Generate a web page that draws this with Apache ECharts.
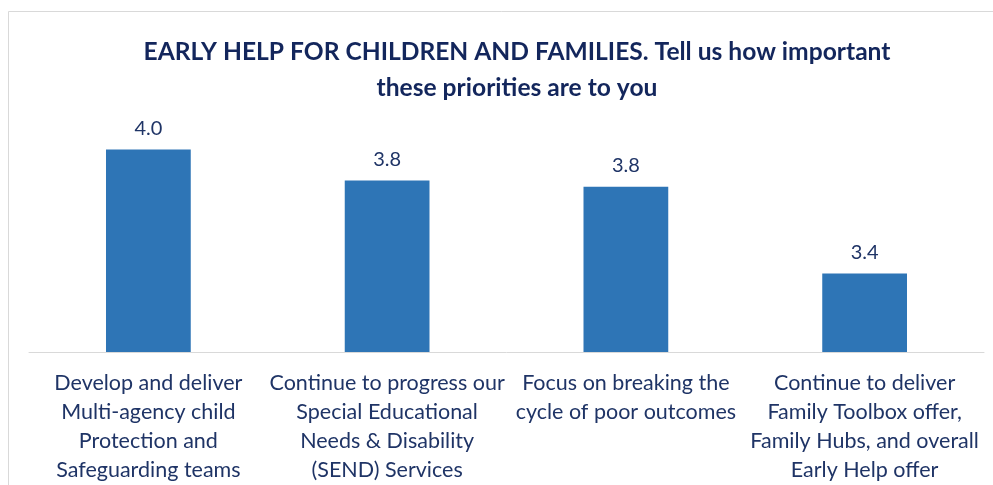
<!DOCTYPE html>
<html>
<head>
<meta charset="utf-8">
<script src="https://cdn.jsdelivr.net/npm/echarts@6/dist/echarts.min.js"></script>
<style>
html,body{margin:0;padding:0;background:#fff;}
#chart{width:993px;height:485px;}
</style>
</head>
<body>
<div id="chart"></div>
<script>
const titleLines = ["EARLY HELP FOR CHILDREN AND FAMILIES. Tell us how important", "these priorities are to you"];
const categories = [
  "Develop and deliver\nMulti-agency child\nProtection and\nSafeguarding teams",
  "Continue to progress our\nSpecial Educational\nNeeds & Disability\n(SEND) Services",
  "Focus on breaking the\ncycle of poor outcomes",
  "Continue to deliver\nFamily Toolbox offer,\nFamily Hubs, and overall\nEarly Help offer"
];
const values = [3.98, 3.83, 3.80, 3.38];

const chart = echarts.init(document.getElementById('chart'));
const font = 'Lato, "Open Sans", sans-serif';
chart.setOption({
  animation: false,
  backgroundColor: '#ffffff',
  title: {
    text: titleLines.join('\n'),
    left: 512,
    top: 28.5,
    textAlign: 'center',
    textStyle: {
      fontFamily: font,
      fontWeight: 'bold',
      fontSize: 24.6,
      lineHeight: 36.5,
      color: '#13265c'
    }
  },
  graphic: [{
    type: 'rect',
    shape: {x: 8.5, y: 11.5, width: 1100, height: 600},
    style: {fill: 'none', stroke: '#d9d9d9', lineWidth: 1},
    silent: true
  }],
  grid: {left: 29, right: 9, top: 104, bottom: 131},
  xAxis: {
    type: 'category',
    data: categories,
    axisLine: {lineStyle: {color: '#d9d9d9', width: 1}},
    axisTick: {show: false},
    axisLabel: {
      interval: 0,
      margin: 17,
      fontFamily: font,
      fontSize: 21.5,
      lineHeight: 29,
      color: '#1f3466'
    }
  },
  yAxis: {
    type: 'value',
    min: 3,
    max: 4.2,
    show: false,
    splitLine: {show: false}
  },
  series: [{
    type: 'bar',
    data: values,
    barWidth: '35.5%',
    itemStyle: {color: '#2e75b6'},
    label: {
      show: true,
      position: 'top',
      distance: 11,
      fontFamily: font,
      fontSize: 20,
      color: '#1f3466',
      formatter: p => p.value.toFixed(1)
    }
  }]
});
</script>
</body>
</html>
